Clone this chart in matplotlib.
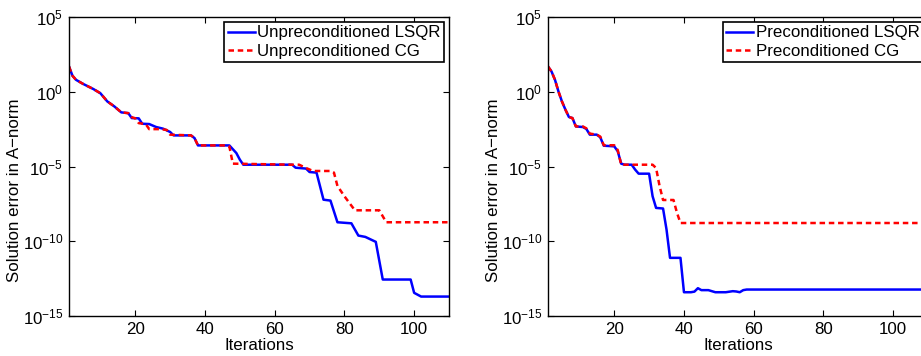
import numpy as np
import matplotlib
matplotlib.use("Agg")
import matplotlib.pyplot as plt
from matplotlib.ticker import FixedLocator, LogFormatterMathtext, NullLocator

plt.rcParams['font.family'] = ['Liberation Sans', 'DejaVu Sans']
plt.rcParams['mathtext.fontset'] = 'custom'
plt.rcParams['mathtext.rm'] = 'Liberation Sans'
plt.rcParams['mathtext.it'] = 'Liberation Sans:italic'
plt.rcParams['mathtext.bf'] = 'Liberation Sans:bold'

# ---- data (iteration, log10 of error) ----
unpre_lsqr_it = [1, 2, 3, 5, 8, 10, 12, 14, 16, 18, 19, 21, 22, 24, 26, 28, 30, 31, 36, 37, 38, 47,
                 49, 50, 51, 65, 66, 69, 70, 72, 74, 76, 78, 82, 84, 86, 89, 91, 99, 100, 102, 110]
unpre_lsqr_lg = [1.69, 1.07, 0.80, 0.53, 0.18, -0.10, -0.65, -0.98, -1.38, -1.43, -1.76, -1.78, -2.14,
                 -2.16, -2.36, -2.47, -2.69, -2.92, -2.92, -3.10, -3.59, -3.59, -4.10, -4.54, -4.88,
                 -4.88, -5.08, -5.14, -5.37, -5.41, -7.22, -7.28, -8.73, -8.80, -9.62, -9.71, -10.04,
                 -12.56, -12.56, -13.45, -13.70, -13.70]

unpre_cg_it = [1, 2, 3, 5, 8, 10, 12, 14, 16, 18, 19, 20, 21, 23, 24, 27, 29, 30, 36, 37, 38, 46, 47,
               48, 65, 67, 69, 71, 76, 77, 78, 80, 83, 90, 92, 110]
unpre_cg_lg = [1.69, 1.07, 0.80, 0.53, 0.18, -0.10, -0.65, -0.98, -1.38, -1.43, -1.70, -1.78, -2.10,
               -2.16, -2.50, -2.50, -2.55, -2.87, -2.92, -3.10, -3.59, -3.59, -3.66, -4.81, -4.88,
               -4.88, -5.10, -5.30, -5.30, -5.41, -6.30, -6.99, -7.93, -7.93, -8.73, -8.73]

pre_lsqr_it = [1, 2, 3, 4, 5, 6, 7, 8, 9, 11, 12, 13, 15, 16, 17, 20, 21, 22, 23, 25, 26, 27, 30, 31,
               32, 34, 35, 36, 39, 40, 42, 43, 44, 45, 47, 49, 52, 54, 55, 56, 57, 58, 110]
pre_lsqr_lg = [1.69, 1.36, 0.80, 0.02, -0.65, -1.20, -1.69, -1.76, -2.32, -2.36, -2.49, -2.87, -2.87,
               -3.05, -3.61, -3.65, -3.98, -4.81, -4.88, -4.88, -5.21, -5.48, -5.48, -6.99, -7.77,
               -7.81, -9.22, -11.11, -11.11, -13.41, -13.41, -13.37, -13.14, -13.27, -13.27, -13.41,
               -13.41, -13.34, -13.36, -13.41, -13.27, -13.23, -13.23]

pre_cg_it = [1, 2, 3, 4, 5, 6, 7, 8, 9, 11, 12, 13, 15, 16, 17, 20, 21, 22, 31, 32, 33, 34, 37, 38,
             39, 110]
pre_cg_lg = [1.69, 1.36, 0.80, 0.02, -0.65, -1.20, -1.69, -1.76, -2.32, -2.32, -2.45, -2.80, -2.87,
             -3.00, -3.58, -3.58, -3.90, -4.88, -4.88, -5.10, -6.30, -7.24, -7.24, -8.10, -8.78,
             -8.78]

xticks = [20, 40, 60, 80, 100]
yticks = [1e5, 1e0, 1e-5, 1e-10, 1e-15]

W, H = 921, 356
fig = plt.figure(figsize=(W / 100, H / 100), dpi=100)

FS = 12.2

def make_axes(left_px, it1, lg1, lab1, it2, lg2, lab2):
    ax = fig.add_axes([left_px / W, 1 - 316 / H, 380 / W, 299 / H])
    ax.semilogy(it1, 10.0 ** np.array(lg1), color='#0000ff', lw=1.8, label=lab1)
    ax.semilogy(it2, 10.0 ** np.array(lg2), color='#ff0000', lw=1.8, ls=(0, (2.2, 1.5)), label=lab2)
    ax.set_xlim(1, 110)
    ax.set_ylim(1e-15, 1e5)
    ax.xaxis.set_major_locator(FixedLocator(xticks))
    ax.yaxis.set_major_locator(FixedLocator(yticks))
    ax.yaxis.set_minor_locator(NullLocator())
    ax.yaxis.set_major_formatter(LogFormatterMathtext())
    ax.tick_params(direction='in', top=True, right=True, labelsize=FS, length=4, width=0.8, pad=4)
    for s in ax.spines.values():
        s.set_linewidth(1.0)
    ax.set_xlabel('Iterations', fontsize=FS, labelpad=1)
    ax.set_ylabel('Solution error in A\u2212norm', fontsize=FS)
    ax.yaxis.set_label_coords(-0.123, 0.42)
    leg = ax.legend(loc='upper right', fontsize=FS, frameon=True, fancybox=False,
                    edgecolor='black', framealpha=1, handlelength=1.6, handletextpad=0.15,
                    labelspacing=0.2, borderpad=0.2, borderaxespad=0.3)
    leg.get_frame().set_linewidth(1.2)
    return ax

make_axes(69, unpre_lsqr_it, unpre_lsqr_lg, 'Unpreconditioned LSQR',
          unpre_cg_it, unpre_cg_lg, 'Unpreconditioned CG')
make_axes(548, pre_lsqr_it, pre_lsqr_lg, 'Preconditioned LSQR',
          pre_cg_it, pre_cg_lg, 'Preconditioned CG')

fig.savefig('out.png', dpi=100)
